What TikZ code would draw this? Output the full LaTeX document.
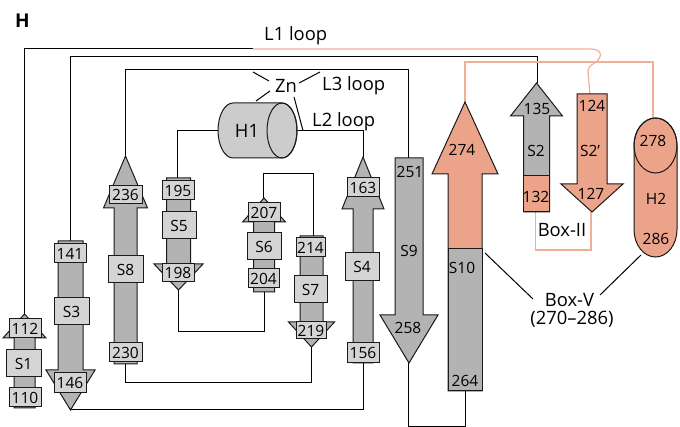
\documentclass[tikz,border=0pt]{standalone}
\usepackage{fontspec}
\setmainfont{Open Sans}
\definecolor{sgray}{HTML}{B3B3B3}
\definecolor{lgray}{HTML}{D4D4D4}
\definecolor{hgray}{HTML}{CCCCCC}
\definecolor{salm}{HTML}{EBA38A}
\definecolor{salmline}{HTML}{F2AE96}
\definecolor{outl}{HTML}{1A1A1A}
\newcommand{\mystrand}[7]{\filldraw[strandst,fill=#7] (#1,#2) -- ({#1+#4},#3) -- ({#1+#5},#3) -- ({#1+#5},#6) -- ({#1-#5},#6) -- ({#1-#5},#3) -- ({#1-#4},#3) -- cycle;}
\begin{document}
\begin{tikzpicture}[x=1pt,y=-1pt,
  strandst/.style={draw=outl,line width=1pt,line join=miter},
  lbl/.style={draw=outl,fill=lgray,line width=1pt,inner sep=0pt,font=\fontsize{15.5}{15.5}\selectfont},
  num/.style={inner sep=0pt,font=\fontsize{15.5}{15.5}\selectfont},
  big/.style={inner sep=0pt,font=\fontsize{18.4}{18.4}\selectfont},
  conn/.style={draw=black,line width=1pt},
  sconn/.style={draw=salmline,line width=1.2pt},
  thin/.style={draw=black,line width=1pt}]
\useasboundingbox (0,0) rectangle (680,427);
% ---------- coordinates ----------
\coordinate (S1tip) at (24.5,314);
\coordinate (S3top) at (70.5,241);
\coordinate (S3tip) at (70.5,410);
\coordinate (S8tip) at (125.5,156);
\coordinate (S8bot) at (125.5,364);
\coordinate (S5top) at (177.5,178);
\coordinate (S5tip) at (178.5,290);
\coordinate (S6tip) at (263.5,198);
\coordinate (S6bot) at (264.5,292);
\coordinate (S7top) at (313,236);
\coordinate (S7tip) at (311.5,347);
\coordinate (S4tip) at (363,157);
\coordinate (S4bot) at (363,363);
\coordinate (S9top) at (408.5,158);
\coordinate (S9tip) at (408.5,363);
\coordinate (S10tip) at (465,102);
\coordinate (S10bot) at (465,391);
\coordinate (S2tip) at (537,83);
\coordinate (S2bot) at (535.5,212);
\coordinate (S2ptop) at (590,94);
\coordinate (S2ptip) at (591,212);
\coordinate (H2top) at (653,118);
\coordinate (H1w) at (218,130.5);
\coordinate (H1e) at (297,130.5);
\coordinate (L1k) at (253,49);
\coordinate (L1a) at (590,49);
\coordinate (L1b) at (596,62);
\coordinate (L1c) at (588,72);
\coordinate (y57) at (0,57);
\coordinate (y62) at (0,62);
\coordinate (y70) at (0,70);
\coordinate (y174) at (0,174);
\coordinate (y250) at (0,250);
\coordinate (y332) at (0,332);
\coordinate (y383) at (0,383);
\coordinate (y426) at (0,426);
% ---------- connectors ----------
\draw[conn] (S1tip) |- (L1k);
\draw[sconn] (L1k) -- (L1a) .. controls (602,49) and (603,56) .. (L1b) .. controls (590,66) and (588,67) .. (L1c) -- (S2ptop);
\draw[conn] (S3top) |- (S2tip |- y57) -- (S2tip);
\draw[sconn] (S10tip) |- (H2top |- y62) -- (H2top);
\draw[conn] (S8tip) |- (S9top |- y70) -- (S9top);
\draw[conn] (H1w) -| (S5top);
\draw[conn] (H1e) -| (S4tip);
\draw[conn] (S5tip) |- (S6bot |- y332) -- (S6bot);
\draw[conn] (S6tip) |- (S7top |- y174) -- (S7top);
\draw[conn] (S7tip) |- (S8bot |- y383) -- (S8bot);
\draw[conn] (S3tip) -| (S4bot);
\draw[conn] (S9tip) |- (S10bot |- y426) -- (S10bot);
\draw[sconn] (S2bot) |- (S2ptip |- y250) -- (S2ptip);
% ---------- strands ----------
\mystrand{24.5}{314}{338}{21.5}{10.5}{408}{sgray}
\mystrand{70.5}{410}{370}{24.5}{12.5}{241}{sgray}
\mystrand{125.5}{156}{208}{22}{11.5}{364}{sgray}
\mystrand{178.5}{290}{264}{24.5}{12}{178}{sgray}
\mystrand{264}{198}{222}{21.5}{10.5}{292}{sgray}
\mystrand{311.5}{347}{322}{23}{11.5}{236}{sgray}
\mystrand{363}{157}{209}{21}{10}{363}{sgray}
\mystrand{409}{363}{315}{29}{14}{158}{sgray}
% S10 (bicolor)
\mystrand{465}{102}{174}{33}{17}{391}{salm}
\filldraw[strandst,fill=sgray] (448,249) rectangle (482,391);
% S2 (bicolor)
\mystrand{536.5}{83}{116}{26}{13}{212}{sgray}
\filldraw[strandst,fill=salm] (523.5,176) rectangle (549.5,212);
% S2'
\mystrand{592}{212}{184}{31}{15}{94}{salm}
% ---------- H1 cylinder ----------
\filldraw[strandst,fill=hgray] (233,103) -- (282,103) arc[start angle=90,end angle=-90,x radius=15pt,y radius=27.5pt] -- (233,158) arc[start angle=270,end angle=90,x radius=15pt,y radius=27.5pt] -- cycle;
\draw[strandst] (282,130.5) ellipse[x radius=15,y radius=27.5];
\node[big] (H1) at (247,130.5) {H1};
% ---------- H2 capsule ----------
\filldraw[strandst,fill=salm] (634,145.5) -- (634,229.5) arc[start angle=180,end angle=360,x radius=21.5pt,y radius=27.5pt] -- (677,145.5) arc[start angle=0,end angle=180,x radius=21.5pt,y radius=27.5pt] -- cycle;
\draw[strandst] (655.5,145.5) ellipse[x radius=21.5,y radius=27.5];
% ---------- label boxes ----------
\node[lbl,minimum width=32,minimum height=19] (b112) at (25,328.5) {112};
\node[lbl,minimum width=35,minimum height=27] (bS1) at (23.5,363.5) {S1};
\node[lbl,minimum width=32,minimum height=19] (b110) at (25,397.5) {110};
\node[lbl,minimum width=32,minimum height=19] (b141) at (70,253.5) {141};
\node[lbl,minimum width=35,minimum height=27] (bS3) at (71.5,311.5) {S3};
\node[lbl,minimum width=32,minimum height=20] (b146) at (70,383) {146};
\node[lbl,minimum width=33,minimum height=18] (b236) at (125.5,195) {236};
\node[lbl,minimum width=35,minimum height=27] (bS8) at (125.5,269.5) {S8};
\node[lbl,minimum width=33,minimum height=19] (b230) at (125.5,352.5) {230};
\node[lbl,minimum width=32,minimum height=19] (b195) at (178,190.5) {195};
\node[lbl,minimum width=34,minimum height=27] (bS5) at (179,225.5) {S5};
\node[lbl,minimum width=32,minimum height=18] (b198) at (178,273) {198};
\node[lbl,minimum width=32,minimum height=19] (b207) at (264,212.5) {207};
\node[lbl,minimum width=34,minimum height=27] (bS6) at (264,246.5) {S6};
\node[lbl,minimum width=31,minimum height=19] (b204) at (263.5,278.5) {204};
\node[lbl,minimum width=29,minimum height=19] (b214) at (310.5,247.5) {214};
\node[lbl,minimum width=33,minimum height=27] (bS7) at (310.5,289.5) {S7};
\node[lbl,minimum width=30,minimum height=17] (b219) at (311,330.5) {219};
\node[lbl,minimum width=32,minimum height=19] (b163) at (363,187.5) {163};
\node[lbl,minimum width=34,minimum height=28] (bS4) at (362,267) {S4};
\node[lbl,minimum width=32,minimum height=20] (b156) at (363,353) {156};
% ---------- texts in strands ----------
\node[num] (t251) at (410,172) {251};
\node[num] (tS9) at (409,251) {S9};
\node[num] (t258) at (408,328) {258};
\node[num] (t274) at (462,150) {274};
\node[num] (tS10) at (462,268) {S10};
\node[num] (t264) at (465,381) {264};
\node[num] (t135) at (537,109) {135};
\node[num] (tS2) at (536,151) {S2};
\node[num] (t132) at (536,197) {132};
\node[num] (t124) at (592,106) {124};
\node[num] (tS2p) at (590,151) {S2’};
\node[num] (t127) at (591,194) {127};
\node[num] (t278) at (653,141) {278};
\node[num] (tH2) at (656,199) {H2};
\node[num] (t286) at (656,239) {286};
% ---------- labels ----------
\node[inner sep=0pt,font=\fontsize{19}{19}\selectfont\bfseries] (H) at (22.5,21) {H};
\node[big,anchor=base west] (L1) at (264,41) {L1 loop};
\node[big,anchor=base west] (Zn) at (275,93) {Zn};
\node[big,anchor=base west] (L3) at (322,91) {L3 loop};
\node[big,anchor=base west] (L2) at (312,127) {L2 loop};
\node[big] (BoxII) at (562,230) {Box-II};
\node[big,anchor=base] (BoxV) at (569.5,306.5) {Box-V};
\node[big,anchor=base] (BoxVr) at (572,324.5) {(270–286)};
% Zn coordination lines
\draw[thin] (253,72) -- (269,81);
\draw[thin] (320,72) -- (299,83);
\draw[thin] (256,101) -- (270,91);
\draw[thin] (294,97) -- (303,130.5);
% Box-V lines
\draw[thin] (485,253) -- (533,299);
\draw[thin] (600,295) -- (641,255);
\end{tikzpicture}
\end{document}
